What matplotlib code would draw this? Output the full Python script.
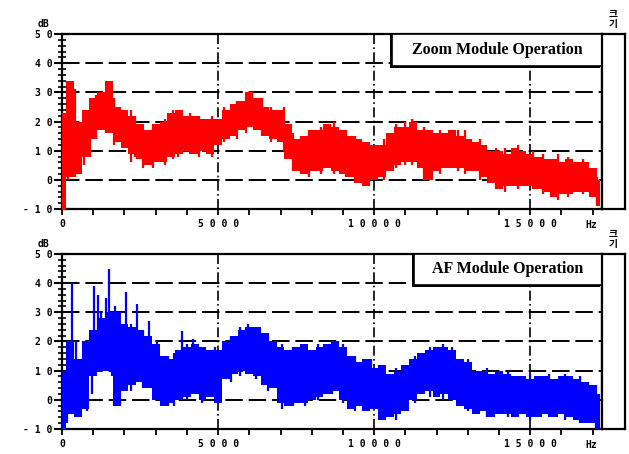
import numpy as np
import matplotlib
matplotlib.use("Agg")
import matplotlib.pyplot as plt
from matplotlib.patches import Rectangle

plt.rcParams['font.family'] = ['DejaVu Sans Mono', 'Noto Sans CJK KR']

# frequency grid (Hz), envelope values (dB)
freq = np.arange(0, 17500, 250)

zoom_hi = [23, 34, 20, 24, 28, 30, 34, 25, 24, 22, 19, 17, 19, 20, 23, 24, 22, 22, 21, 21,
           21, 24, 26, 27, 30, 28, 25, 24, 24, 19, 14, 15, 17, 17, 19, 18, 17, 15, 14, 13,
           12, 12, 16, 18, 18, 20, 17, 17, 16, 16, 17, 15, 14, 13, 12, 10, 10, 9, 11, 10,
           9, 8, 7, 7, 6, 7, 6, 6, 4, 0]
zoom_lo = [-12, 1, 2, 8, 14, 17, 16, 13, 11, 9, 7, 5, 6, 6, 8, 9, 10, 9, 10, 9,
           12, 14, 15, 17, 18, 17, 15, 14, 13, 7, 3, 2, 3, 3, 4, 3, 2, 1, -1, -2,
           0, 1, 3, 5, 6, 6, 4, 0, 3, 4, 4, 4, 3, 3, 1, -1, -3, -2, -2, -2,
           -2, -3, -4, -6, -5, -5, -4, -4, -6, -9]

af_hi = [10, 20, 14, 20, 24, 28, 30, 30, 26, 25, 24, 22, 19, 15, 14, 17, 18, 19, 18, 17,
         17, 20, 22, 24, 25, 25, 23, 20, 18, 17, 18, 19, 17, 18, 19, 20, 18, 15, 13, 14,
         11, 12, 9, 10, 12, 14, 16, 17, 18, 18, 17, 14, 13, 10, 10, 9, 10, 9, 8, 8,
         7, 8, 8, 7, 8, 8, 7, 6, 5, 2]
af_lo = [-10, -5, -6, -3, 8, 10, 10, -2, 3, 5, 6, 4, 0, -2, -1, 0, 1, 2, 0, 1,
         -1, 7, 9, 10, 9, 8, 5, 4, -1, -2, -1, -1, 0, 1, 2, 3, 0, -3, -2, -4,
         -3, -7, -6, -5, -4, 0, 2, 3, 1, 2, 0, -2, -3, -5, -4, -6, -5, -5, -6, -5,
         -6, -6, -5, -6, -5, -6, -7, -8, -8, -10]

# isolated spikes: frequency, bottom, top
zoom_spk_f = [60, 180, 320, 420, 700, 900, 1100, 1300, 1450, 1650, 2200, 2350, 2600, 2900,
              3300, 3550, 3700, 4100, 4400, 4800, 5200, 5600, 5900, 6100, 6400, 6700, 7100,
              7400, 7900, 8300, 8700, 9100, 9400, 10300, 10700, 11000, 11200, 11600, 12100,
              12700, 12900, 13400, 13900, 14200, 14600, 15100, 15400, 15900, 16200, 16700, 17150]
zoom_spk_lo = [-12, 0, 2, 1, 5, 8, 14, 17, 18, 12, 6, 8, 4, 4,
               5, 7, 8, 9, 8, 8, 13, 14, 16, 18, 15, 13, 10,
               3, 1, 2, 2, 1, -1, 0, 4, 5, 5, 0, 2,
               3, 2, 0, -3, -4, -3, -3, -5, -7, -6, -5, -9]
zoom_spk_hi = [22, 31, 34, 31, 22, 24, 29, 30, 34, 28, 24, 22, 18, 18,
               21, 24, 24, 23, 22, 22, 25, 27, 30, 29, 28, 25, 25,
               16, 16, 18, 20, 17, 15, 14, 19, 20, 21, 18, 17,
               17, 17, 14, 11, 11, 12, 10, 9, 9, 8, 7, 1]

af_spk_f = [150, 320, 450, 800, 950, 1020, 1150, 1250, 1420, 1500, 1600, 1700, 1850, 2050,
            2200, 2400, 2600, 2800, 3050, 3400, 3600, 3850, 4000, 4200, 4500, 4900, 5400,
            5700, 5950, 6200, 6600, 7050, 7400, 7800, 8200, 8650, 9000, 9400, 9900, 10300,
            10700, 11300, 11800, 12200, 12300, 12500, 13000, 13600, 14300, 15000, 15600,
            16100, 16600, 17100]
af_spk_lo = [-8, 0, -6, -4, 2, 8, 10, 10, 12, 10, 8, 2, -2, 3,
             3, 6, 4, 4, 0, -2, -2, 0, 0, 2, -1, -1, 6,
             8, 9, 7, 3, -3, -2, -2, 0, 2, -1, -4, -3, -7,
             -7, -1, 1, 0, 2, 1, -4, -6, -6, -7, -6,
             -7, -8, -10]
af_spk_hi = [10, 40, 20, 20, 24, 39, 36, 30, 35, 45, 30, 32, 24, 37,
             26, 33, 24, 27, 20, 15, 16, 23.5, 19, 21, 18, 18, 22,
             25, 26, 25, 22, 19, 18, 19, 19, 20, 19, 15, 14, 12,
             11, 15, 18, 19, 18, 18, 14, 11, 10, 9, 9,
             9, 8, 5]

xmajor = [0, 5000, 10000, 15000]
xlabels = ["0", "5 0 0 0", "1 0 0 0 0", "1 5 0 0 0"]
ymajor = [-10, 0, 10, 20, 30, 40, 50]
ylabels = ["- 1 0", "0", "1 0", "2 0", "3 0", "4 0", "5 0"]

fig = plt.figure(figsize=(6.29, 4.54), dpi=100)

panels = [
    (0.5396, zoom_lo, zoom_hi, zoom_spk_f, zoom_spk_lo, zoom_spk_hi, "#ff0000",
     "Zoom Module Operation", 0.611, 0.817),
    (0.0551, af_lo, af_hi, af_spk_f, af_spk_lo, af_spk_hi, "#0000ff",
     "AF Module Operation", 0.652, 0.823),
]

for bottom, lo, hi, sf, slo, shi, col, title, bx, by in panels:
    ax = fig.add_axes([0.0986, bottom, 0.8585, 0.3855])
    ax.fill_between(freq, lo, hi, step='mid', color=col, lw=0, zorder=3)
    ax.vlines(sf, slo, shi, color=col, lw=1.6, zorder=3)
    ax.set_xlim(0, 17300)
    ax.set_ylim(-10, 50)

    for yv in [0, 10, 20, 30, 40]:
        ax.axhline(yv, color='black', lw=1.4, ls=(0, (9, 3)), zorder=2)
    for xv in [5000, 10000, 15000]:
        ax.axvline(xv, color='black', lw=1.2, ls=(0, (6, 2, 1, 2)), zorder=2)

    ax.set_xticks(xmajor)
    ax.set_xticklabels(xlabels)
    ax.set_xticks(np.arange(0, 17300, 1000), minor=True)
    ax.set_yticks(ymajor)
    ax.set_yticklabels(ylabels)
    ax.set_yticks(np.arange(-10, 51, 2), minor=True)
    ax.tick_params(axis='x', which='both', direction='out', length=4, width=1.3,
                   labelsize=7)
    ax.tick_params(axis='y', which='major', direction='inout', length=12, width=1.5,
                   labelsize=7, pad=1)
    ax.tick_params(axis='y', which='minor', direction='inout', length=6, width=1.2)
    for lab in ax.get_xticklabels() + ax.get_yticklabels():
        lab.set_fontweight('bold')
    for sp in ax.spines.values():
        sp.set_linewidth(1.6)

    # legend-like title box with a thin shadow
    ax.add_patch(Rectangle((bx - 0.003, by - 0.014), 1.0 - bx, 1.0 - by + 0.014,
                           transform=ax.transAxes, facecolor='black', edgecolor='none',
                           zorder=5, clip_on=False))
    ax.add_patch(Rectangle((bx, by), 1.0 - bx, 1.0 - by, transform=ax.transAxes,
                           facecolor='white', edgecolor='black', lw=1.2, zorder=6,
                           clip_on=False))
    ax.text(bx + (1.0 - bx) / 2, by + (1.0 - by) / 2, title, transform=ax.transAxes,
            ha='center', va='center', fontsize=11.5, fontweight='bold',
            family='Liberation Serif', zorder=7)

    # narrow empty box at the right
    side = fig.add_axes([0.957, bottom, 0.0366, 0.3855])
    side.set_xticks([])
    side.set_yticks([])
    for sp in side.spines.values():
        sp.set_linewidth(1.6)

    ax.text(-0.035, 1.03, "dB", transform=ax.transAxes, ha='center', va='bottom',
            fontsize=7, fontweight='bold')
    ax.text(0.98, -0.065, "Hz", transform=ax.transAxes, ha='center', va='top',
            fontsize=7, fontweight='bold')
    side.text(0.5, 1.03, "크\n기", transform=side.transAxes, ha='center', va='bottom',
              fontsize=7, fontweight='bold', family='Noto Sans CJK KR', linespacing=1.0)

fig.savefig("out.png", dpi=100)
